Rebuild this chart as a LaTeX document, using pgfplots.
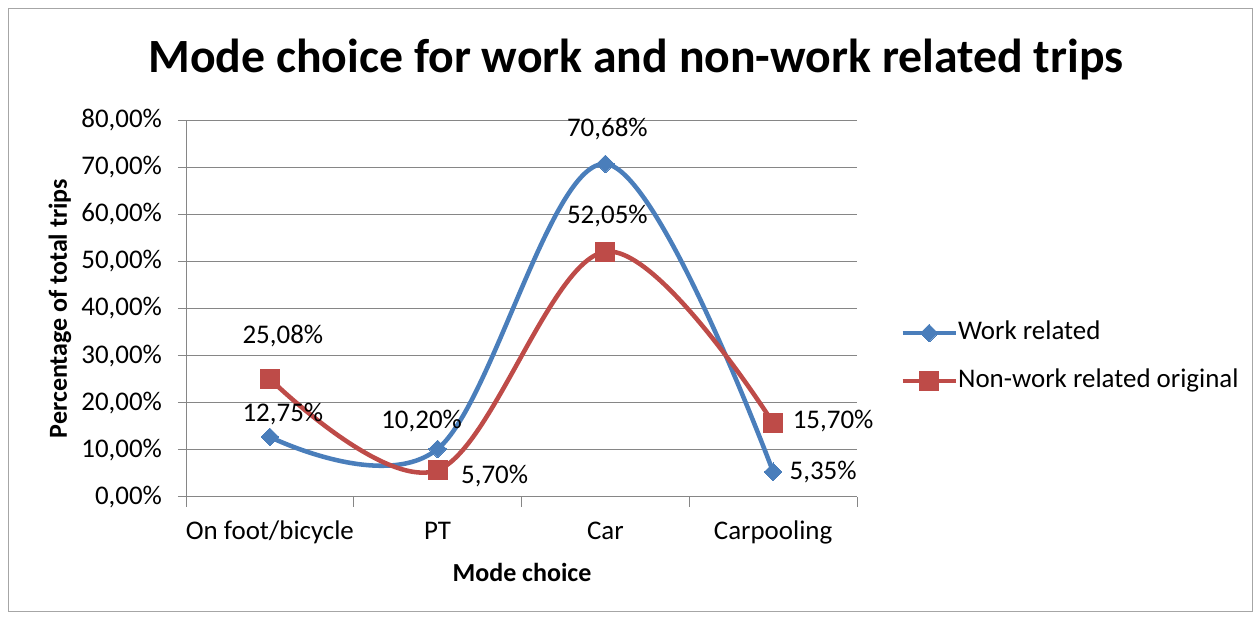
\documentclass[border=0pt]{standalone}
\usepackage{pgfplots}
\usepackage{pgfplotstable}
\pgfplotsset{compat=1.18}
\usepackage{fontspec}
\setmainfont{Carlito}
\definecolor{wblue}{HTML}{4A7EBB}
\definecolor{nred}{HTML}{BE4B48}
\definecolor{gridc}{HTML}{868686}
\definecolor{framec}{HTML}{A6A6A6}

\pgfplotstableread{
x y dx dy lab
0 12.75 13 23 12,75\%
1 10.20 -16 28 10,20\%
2 70.68 2 35 70,68\%
3 5.35 50 0 5,35\%
}\work
\pgfplotstableread{
x y dx dy lab
0 25.08 13 43 25,08\%
1 5.70 57 -6 5,70\%
2 52.05 2 36 52,05\%
3 15.70 60 2 15,70\%
}\nonwork

\begin{document}
\begin{tikzpicture}[x=0.75pt,y=0.75pt]
\useasboundingbox (0,0) rectangle (1260,621);
\draw[framec, line width=0.75pt] (8,9) rectangle (1252,612);
\node[font=\fontsize{35.8pt}{42pt}\selectfont\bfseries, anchor=base, inner sep=0pt] at (636,548) {Mode choice for work and non-work related trips};
\begin{axis}[
  at={(139.5pt,93pt)}, anchor=south west,
  scale only axis, width=503.25pt, height=282.75pt,
  xmin=-0.5, xmax=3.5, ymin=0, ymax=80,
  axis x line*=bottom, axis y line*=left,
  axis line style={gridc, line width=0.75pt},
  ytick={0,10,...,80},
  yticklabels={{0,00\%},{10,00\%},{20,00\%},{30,00\%},{40,00\%},{50,00\%},{60,00\%},{70,00\%},{80,00\%}},
  ymajorgrids, major grid style={gridc, line width=0.75pt},
  xtick={0,1,2,3}, xticklabels={On foot/bicycle,PT,Car,Carpooling},
  xtick style={draw=none},
  ytick style={draw=gridc, line width=0.75pt},
  extra x ticks={-0.5,0.5,1.5,2.5,3.5}, extra x tick labels={},
  extra x tick style={xtick style={draw=gridc, line width=0.75pt}, major tick length=7.5pt},
  tick align=outside, major tick length=6pt,
  tick label style={font=\fontsize{20.2pt}{24pt}\selectfont},
  yticklabel style={xshift=-8.5pt},
  xticklabel style={yshift=-8pt, text height=14pt, text depth=4pt},
  xlabel={Mode choice}, ylabel={Percentage of total trips},
  label style={font=\fontsize{19.5pt}{23pt}\selectfont\bfseries},
  xlabel style={at={(0.5007,-0.199)}, anchor=center},
  ylabel style={at={(-0.1878,0.5)}, anchor=center, rotate=0},
  legend style={at={(1.0641,0.371)}, anchor=west, draw=none, fill=none,
    font=\fontsize{20.2pt}{24pt}\selectfont, row sep=18pt, inner sep=0pt,
    nodes={inner sep=0pt, text height=14pt, text depth=4pt, anchor=west}},
  legend cell align=left,
  legend image code/.code={\draw[mark repeat=2, mark phase=2] plot coordinates {(0pt,0pt) (20pt,0pt) (40pt,0pt)};},
  nodes near coords, point meta=explicit symbolic,
  visualization depends on={\thisrow{dx} \as \dx},
  visualization depends on={\thisrow{dy} \as \dy},
  every node near coord/.append style={anchor=center, black, font=\fontsize{20.2pt}{24pt}\selectfont, xshift={\dx*0.75pt}, yshift={\dy*0.75pt}},
  clip=false,
]
\addplot[wblue, line width=3.4pt, smooth, tension=0.58, mark=square*, mark size=4.7pt, mark options={solid, fill=wblue, line width=0pt, rotate=45}] table[x=x, y=y, meta=lab] {\work};
\addlegendentry{Work related}
\addplot[nred, line width=3.4pt, smooth, tension=0.58, mark=square*, mark size=7.2pt, mark options={solid, fill=nred, line width=0pt}] table[x=x, y=y, meta=lab] {\nonwork};
\addlegendentry{Non-work related original}
\end{axis}
\end{tikzpicture}
\end{document}
